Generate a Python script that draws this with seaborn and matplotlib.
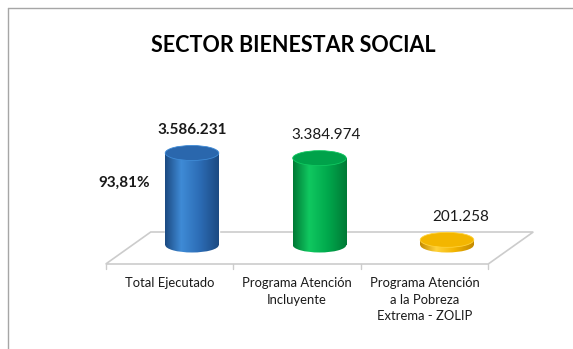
import numpy as np
import seaborn as sns
import matplotlib.pyplot as plt
from matplotlib.patches import Ellipse, Polygon
from matplotlib.colors import LinearSegmentedColormap
from matplotlib.lines import Line2D

# --- datos del grafico ---
categorias = ["Total Ejecutado",
              "Programa Atención\nIncluyente",
              "Programa Atención\na la Pobreza\nExtrema - ZOLIP"]
valores = [3586231, 3384974, 201258]
porcentaje = "93,81%"
titulo = "SECTOR BIENESTAR SOCIAL"

# colores del cilindro: borde oscuro, brillo, medio, tapa
colores = {
    "Total Ejecutado": ("#1c4a82", "#3f8bd6", "#2c6cb5", "#2a67ad"),
    "Programa Atención\nIncluyente": ("#007a36", "#10c860", "#00a84c", "#00a24a"),
    "Programa Atención\na la Pobreza\nExtrema - ZOLIP": ("#c48a00", "#ffd23a", "#f2b400", "#f3b600"),
}

sns.set_theme(style="white")
plt.rcParams["font.family"] = ["Lato", "DejaVu Sans"]

W, H = 573, 349
fig = plt.figure(figsize=(W / 100, H / 100), dpi=100)
ax = fig.add_axes([0, 0, 1, 1])

sns.barplot(x=categorias, y=valores, hue=categorias, palette=[c[2] for c in colores.values()],
            legend=False, width=0.42, ax=ax)

# escala: pixeles por unidad
px_x = 127.5                      # px por categoria
k = valores[0] / 92               # valor por px vertical
x0_px, base_px = 192, 104         # centro del primer cilindro, base desde abajo
ax.set_xlim(-x0_px / px_x, (W - x0_px) / px_x)
ax.set_ylim(-base_px * k, (H - base_px) * k)
ax.axis("off")

# piso en perspectiva
dx, dy = 22.5 / px_x, 16 * k
n = len(categorias)
floor = Polygon([(-0.5 - dx, -dy - 3 * k), (n - 0.5 - dx, -dy - 3 * k),
                 (n - 0.5 + dx, dy - 3 * k), (-0.5 + dx, dy - 3 * k)],
                closed=True, facecolor="white", edgecolor="#cccccc", lw=1.2, zorder=0)
ax.add_patch(floor)
for b in np.arange(-0.5, n, 1.0):
    ax.plot([b - dx, b - dx], [-dy - 3 * k, -dy - 8 * k], color="#cccccc", lw=1, zorder=0)

# cilindros con degradado
ew = 0.42
eh = 15 * k
grad = np.linspace(0, 1, 200).reshape(1, -1)
for i, (bar, cat, v) in enumerate(zip(ax.patches, categorias, valores)):
    dark, light, mid, top = colores[cat]
    cmap = LinearSegmentedColormap.from_list(
        cat, [(0, dark), (0.3, light), (0.65, mid), (1, dark)])
    bar.set_facecolor("none")
    xl = i - ew / 2
    bottom = Ellipse((i, 0), ew, eh, facecolor="none", edgecolor="none")
    ax.add_patch(bottom)
    im = ax.imshow(grad, cmap=cmap, aspect="auto", extent=(xl, xl + ew, -eh, eh), zorder=2)
    im.set_clip_path(bottom)
    im2 = ax.imshow(grad, cmap=cmap, aspect="auto", extent=(xl, xl + ew, 0, v), zorder=2)
    im2.set_clip_path(bar)
    ax.add_patch(Ellipse((i, v), ew, eh, facecolor=top, edgecolor=light,
                         lw=0.6, zorder=3))

# etiquetas de valor
off_x = [0, 7, 14]
for i, v in enumerate(valores):
    txt = f"{v:,}".replace(",", ".")
    ax.text(i + off_x[i] / px_x, v + 23 * k, txt, ha="center", va="center",
            fontsize=11, fontweight="bold" if i == 0 else "normal", color="#1a1a1a")
ax.text(-68 / px_x, 62 * k, porcentaje, ha="center", va="center",
        fontsize=11, fontweight="bold", color="#1a1a1a")

# nombres de categoria
for i, cat in enumerate(categorias):
    ax.text(i - dx, -32 * k, cat, ha="center", va="top", multialignment="center",
            fontsize=9.4, color="#1a1a1a", linespacing=1.45)

fig.text(293 / W, 1 - 45 / H, titulo, ha="center", va="center",
         fontsize=15.5, fontweight="bold", color="black")

# marco
fig.add_artist(Line2D([8 / W, 8 / W], [0, 1 - 8 / H], color="#a6a6a6", lw=1))
fig.add_artist(Line2D([8 / W, 1], [1 - 8 / H, 1 - 8 / H], color="#a6a6a6", lw=1))

fig.savefig("out.png", dpi=100)
